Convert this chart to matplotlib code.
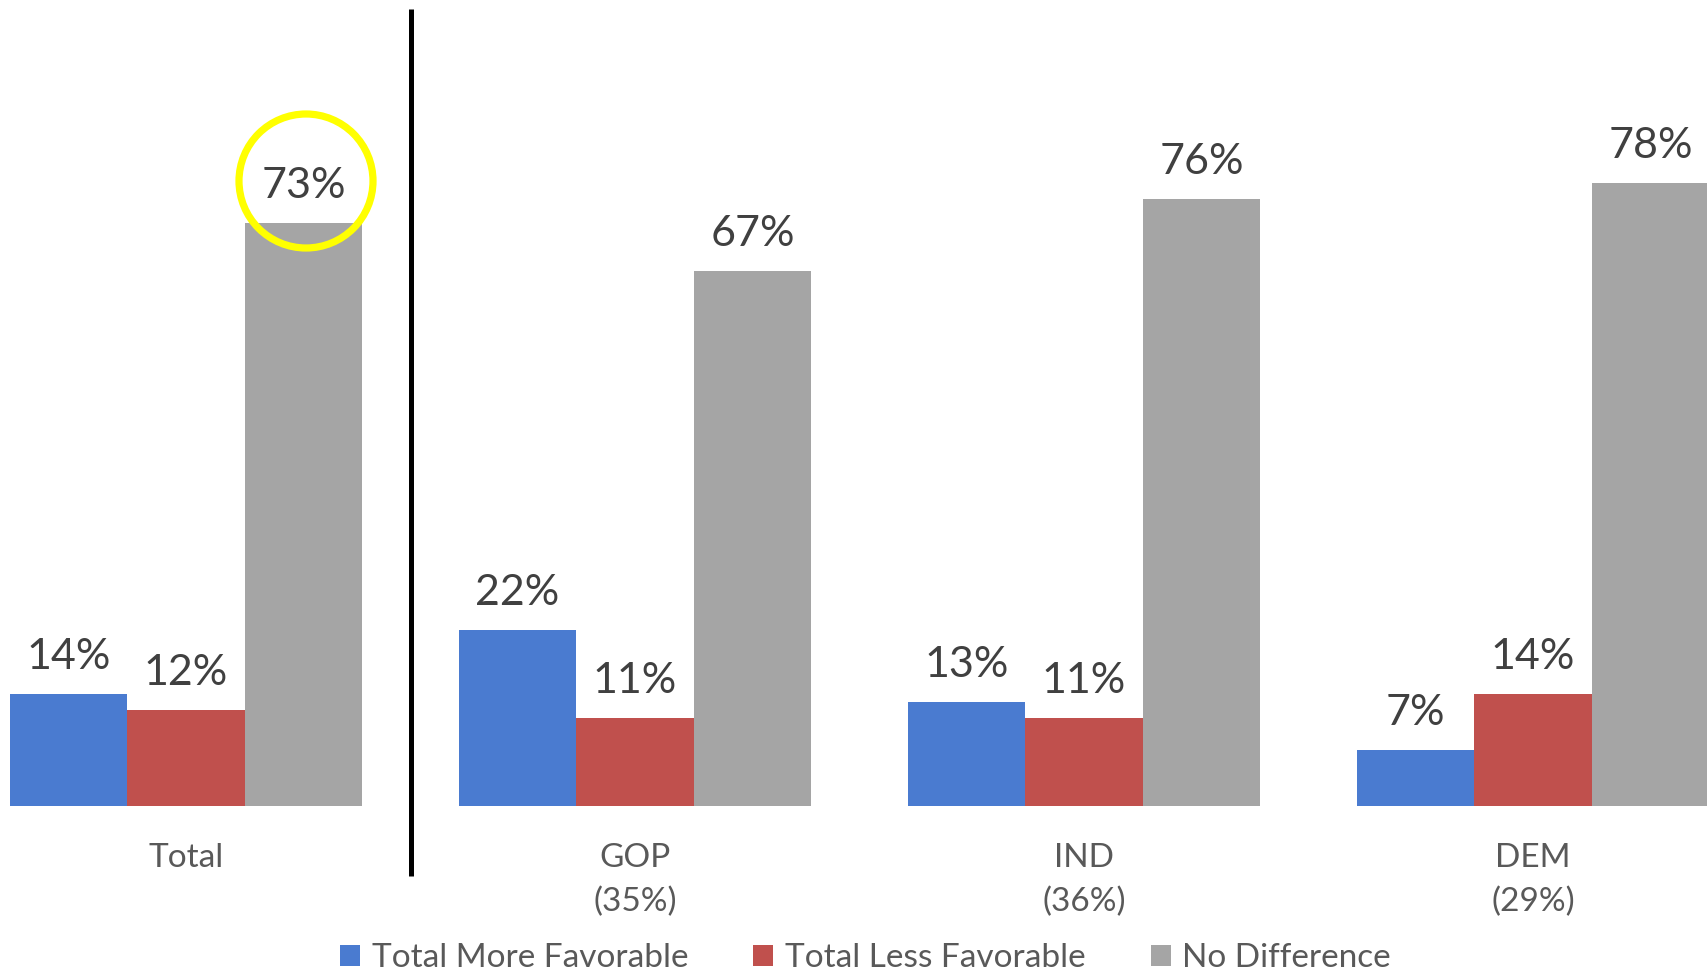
import matplotlib
matplotlib.use("Agg")
import matplotlib.pyplot as plt
from matplotlib.patches import Ellipse, Patch
import numpy as np

categories = ["Total", "GOP", "IND", "DEM"]
shares = ["", "(35%)", "(36%)", "(29%)"]
series_names = ["Total More Favorable", "Total Less Favorable", "No Difference"]
more_favorable = [14, 22, 13, 7]
less_favorable = [12, 11, 11, 14]
no_difference = [73, 67, 76, 78]

colors = ["#4A7BD0", "#C0504D", "#A5A5A5"]
label_color = "#404040"
cat_color = "#595959"

plt.rcParams['font.family'] = ['Lato', 'DejaVu Sans']

W, H = 1707, 972
fig = plt.figure(figsize=(W / 100, H / 100), dpi=100)
base_px = 806
ax = fig.add_axes([0, (H - base_px) / H, 1, base_px / H])

x = np.arange(len(categories))
bw = 0.262
series = [more_favorable, less_favorable, no_difference]
for i, (vals, col) in enumerate(zip(series, colors)):
    pos = x + (i - 1) * bw
    bars = ax.bar(pos, vals, width=bw, color=col, edgecolor='none')
    for xp, v in zip(pos, vals):
        ax.annotate(f"{v}%", xy=(xp, v), xytext=(0, 18), textcoords='offset points',
                    ha='center', va='baseline', fontsize=31, color=label_color)

px_per_unit = 449
x0 = -186 / px_per_unit
x1 = (W - 186) / px_per_unit
ax.set_xlim(x0, x1)
ax.set_ylim(0, base_px / 7.99)
ax.axis('off')

for xi, c, s in zip(x, categories, shares):
    ax.annotate(c, xy=(xi, 0), xycoords=('data', 'axes fraction'), xytext=(0, -44),
                textcoords='offset points', ha='center', va='baseline',
                fontsize=24, color=cat_color)
    if s:
        ax.annotate(s, xy=(xi, 0), xycoords=('data', 'axes fraction'), xytext=(0, -75.5),
                    textcoords='offset points', ha='center', va='baseline',
                    fontsize=24, color=cat_color)

# vertical separator
ax.plot([0.5, 0.5], [-8.76, 99.7], color='black', lw=3.6, clip_on=False,
        solid_capstyle='butt')

# yellow highlight circle
circ = Ellipse((306 / W, 1 - 181 / H), 2 * 67 / W, 2 * 67 / H,
               transform=fig.transFigure, fill=False, edgecolor='#FFFF00', lw=5.2)
fig.patches.append(circ)

handles = [Patch(facecolor=c, edgecolor='none') for c in colors]
fig.legend(handles, series_names, loc='center', bbox_to_anchor=(0.507, 1 - 958 / H),
           ncol=3, frameon=False, fontsize=24, handlelength=0.6, handleheight=0.6,
           handletextpad=0.35, columnspacing=1.95, labelcolor=cat_color,
           borderpad=0, borderaxespad=0)

fig.savefig("out.png", dpi=100)
